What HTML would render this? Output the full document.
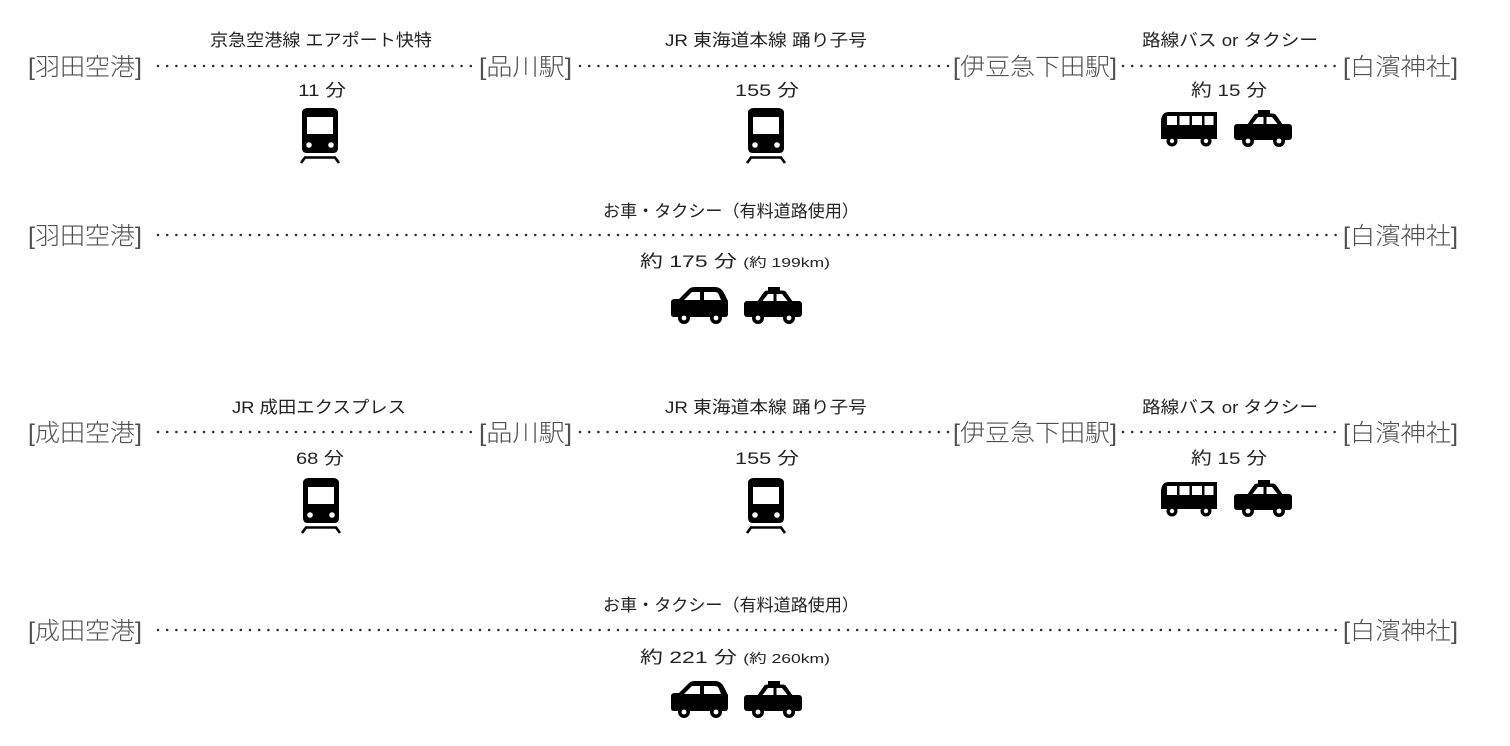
<!DOCTYPE html>
<html>
<head>
<meta charset="utf-8">
<style>
html,body{margin:0;padding:0;background:#fff;}
body{width:1510px;height:746px;overflow:hidden;}
svg{display:block;}
.st{font-family:"Liberation Sans","Noto Sans CJK JP",sans-serif;font-size:24px;fill:#505050;font-weight:300;}
.lb{font-family:"Liberation Sans","Noto Sans CJK JP",sans-serif;font-size:17px;fill:#222;}
.sm{font-size:13px;}
.dots{stroke:#2a2a2a;stroke-width:2.5;stroke-linecap:round;stroke-dasharray:0 9.2;}
</style>
</head>
<body>
<svg width="1510" height="746" viewBox="0 0 1510 746" xmlns="http://www.w3.org/2000/svg">
<defs>
  <g id="train">
    <path d="M8 0 H32 Q37 0 38 4 L38 40 Q38 45 33 45 H7 Q2 45 2 40 L2 4 Q3 0 8 0 Z" fill="#000"/>
    <rect x="7" y="9" width="26" height="17" fill="#fff"/>
    <circle cx="9" cy="37" r="2.8" fill="#fff"/>
    <circle cx="31" cy="37" r="2.8" fill="#fff"/>
    <path d="M1 55 L5 49.5 H35 L39 55" fill="none" stroke="#000" stroke-width="2.6"/>
  </g>
  <g id="bus">
    <path d="M8 0 H56 V27 H0 V10 Q0 0 8 0 Z" fill="#000"/>
    <rect x="6" y="4" width="10" height="9" fill="#fff"/>
    <rect x="18.5" y="4" width="10" height="9" fill="#fff"/>
    <rect x="31" y="4" width="10" height="9" fill="#fff"/>
    <rect x="43.5" y="4" width="9" height="9" fill="#fff"/>
    <circle cx="11" cy="29" r="5.5" fill="#000"/>
    <circle cx="11" cy="29" r="2.2" fill="#fff"/>
    <circle cx="45" cy="29" r="5.5" fill="#000"/>
    <circle cx="45" cy="29" r="2.2" fill="#fff"/>
  </g>
  <g id="taxi">
    <rect x="24" y="0" width="12" height="4" fill="#000"/>
    <path d="M13 15 L20 5 Q21 3.5 24 3.5 H38 Q41 3.5 42 5 L49 15 Z" fill="#000"/>
    <rect x="0" y="14" width="58" height="16" rx="3" fill="#000"/>
    <path d="M18.5 14 L24 7 H29.5 V14 Z" fill="#fff"/>
    <path d="M32.5 14 V7 H38 L43.5 14 Z" fill="#fff"/>
    <circle cx="14" cy="31" r="6" fill="#000"/>
    <circle cx="14" cy="31" r="2.4" fill="#fff"/>
    <circle cx="45" cy="31" r="6" fill="#000"/>
    <circle cx="45" cy="31" r="2.4" fill="#fff"/>
  </g>
  <g id="car">
    <path d="M0 15 Q0 12 4 12 H8 L18 2 Q20 0 24 0 H44 Q50 0 53 6 L57 14 V27 Q57 30 54 30 H3 Q0 30 0 27 Z" fill="#000"/>
    <path d="M13 13 L21 5 H29 V13 Z" fill="#fff"/>
    <path d="M33 13 V5 H44 Q47 5 48 8 L50 13 Z" fill="#fff"/>
    <circle cx="13" cy="31" r="6" fill="#000"/>
    <circle cx="13" cy="31" r="2.4" fill="#fff"/>
    <circle cx="45" cy="31" r="6" fill="#000"/>
    <circle cx="45" cy="31" r="2.4" fill="#fff"/>
  </g>
</defs>

<!-- ROW 1 -->
<text class="lb" x="321" y="46" text-anchor="middle" textLength="222" lengthAdjust="spacingAndGlyphs">京急空港線 エアポート快特</text>
<text class="lb" x="766" y="46" text-anchor="middle" textLength="202" lengthAdjust="spacingAndGlyphs">JR 東海道本線 踊り子号</text>
<text class="lb" x="1230" y="46" text-anchor="middle" textLength="176" lengthAdjust="spacingAndGlyphs">路線バス or タクシー</text>

<text class="st" x="28" y="75" textLength="114" lengthAdjust="spacingAndGlyphs">[羽田空港]</text>
<line class="dots" x1="158" y1="66" x2="476" y2="66"/>
<text class="st" x="479" y="75" textLength="93" lengthAdjust="spacingAndGlyphs">[品川駅]</text>
<line class="dots" x1="580" y1="66" x2="950" y2="66"/>
<text class="st" x="953" y="75" textLength="164" lengthAdjust="spacingAndGlyphs">[伊豆急下田駅]</text>
<line class="dots" x1="1123" y1="66" x2="1340" y2="66"/>
<text class="st" x="1343" y="75" textLength="115" lengthAdjust="spacingAndGlyphs">[白濱神社]</text>

<text class="lb" x="322" y="96" text-anchor="middle" textLength="48" lengthAdjust="spacingAndGlyphs">11 分</text>
<text class="lb" x="767" y="96" text-anchor="middle" textLength="64" lengthAdjust="spacingAndGlyphs">155 分</text>
<text class="lb" x="1229" y="96" text-anchor="middle" textLength="76" lengthAdjust="spacingAndGlyphs">約 15 分</text>

<use href="#train" x="300" y="108"/>
<use href="#train" x="746" y="108"/>
<use href="#bus" x="1161" y="112"/>
<use href="#taxi" x="1234" y="110"/>

<!-- ROW 2 -->
<text class="lb" x="731" y="217" text-anchor="middle" textLength="256" lengthAdjust="spacingAndGlyphs">お車・タクシー（有料道路使用）</text>
<text class="st" x="28" y="244" textLength="114" lengthAdjust="spacingAndGlyphs">[羽田空港]</text>
<line class="dots" x1="158" y1="235" x2="1340" y2="235"/>
<text class="st" x="1343" y="244" textLength="115" lengthAdjust="spacingAndGlyphs">[白濱神社]</text>
<text class="lb" x="640" y="267" textLength="190" lengthAdjust="spacingAndGlyphs">約 175 分 <tspan class="sm">(約 199km)</tspan></text>
<use href="#car" x="671" y="287"/>
<use href="#taxi" x="744" y="287"/>

<!-- ROW 3 -->
<text class="lb" x="319" y="413" text-anchor="middle" textLength="174" lengthAdjust="spacingAndGlyphs">JR 成田エクスプレス</text>
<text class="lb" x="766" y="413" text-anchor="middle" textLength="202" lengthAdjust="spacingAndGlyphs">JR 東海道本線 踊り子号</text>
<text class="lb" x="1230" y="413" text-anchor="middle" textLength="176" lengthAdjust="spacingAndGlyphs">路線バス or タクシー</text>

<text class="st" x="28" y="441" textLength="114" lengthAdjust="spacingAndGlyphs">[成田空港]</text>
<line class="dots" x1="158" y1="432" x2="476" y2="432"/>
<text class="st" x="479" y="441" textLength="93" lengthAdjust="spacingAndGlyphs">[品川駅]</text>
<line class="dots" x1="580" y1="432" x2="950" y2="432"/>
<text class="st" x="953" y="441" textLength="164" lengthAdjust="spacingAndGlyphs">[伊豆急下田駅]</text>
<line class="dots" x1="1123" y1="432" x2="1340" y2="432"/>
<text class="st" x="1343" y="441" textLength="115" lengthAdjust="spacingAndGlyphs">[白濱神社]</text>

<text class="lb" x="320" y="464" text-anchor="middle" textLength="48" lengthAdjust="spacingAndGlyphs">68 分</text>
<text class="lb" x="767" y="464" text-anchor="middle" textLength="64" lengthAdjust="spacingAndGlyphs">155 分</text>
<text class="lb" x="1229" y="464" text-anchor="middle" textLength="76" lengthAdjust="spacingAndGlyphs">約 15 分</text>

<use href="#train" x="301" y="478"/>
<use href="#train" x="746" y="478"/>
<use href="#bus" x="1161" y="482"/>
<use href="#taxi" x="1234" y="480"/>

<!-- ROW 4 -->
<text class="lb" x="731" y="611" text-anchor="middle" textLength="256" lengthAdjust="spacingAndGlyphs">お車・タクシー（有料道路使用）</text>
<text class="st" x="28" y="639" textLength="114" lengthAdjust="spacingAndGlyphs">[成田空港]</text>
<line class="dots" x1="158" y1="630" x2="1340" y2="630"/>
<text class="st" x="1343" y="639" textLength="115" lengthAdjust="spacingAndGlyphs">[白濱神社]</text>
<text class="lb" x="640" y="663" textLength="190" lengthAdjust="spacingAndGlyphs">約 221 分 <tspan class="sm">(約 260km)</tspan></text>
<use href="#car" x="671" y="681"/>
<use href="#taxi" x="744" y="681"/>
</svg>
</body>
</html>
